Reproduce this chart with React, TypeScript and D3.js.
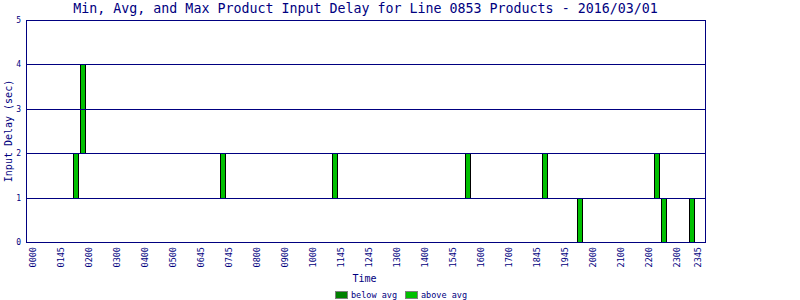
import React from "react";
import * as d3 from "d3";

const titleText = "Min, Avg, and Max Product Input Delay for Line 0853 Products - 2016/03/01";
const slotCount = 96;
const tickSlots = [0, 4, 8, 12, 16, 20, 24, 28, 32, 36, 40, 44, 48, 52, 56, 60, 64, 68, 72, 76, 80, 84, 88, 92, 95];
const tickLabels = ["0000", "0145", "0200", "0300", "0400", "0500", "0645", "0745", "0800", "0900", "1000", "1145", "1245", "1300", "1400", "1545", "1600", "1700", "1845", "1945", "2000", "2100", "2200", "2300", "2345"];
const barSlots = [6, 7, 27, 43, 62, 73, 78, 89, 90, 94];
const minDelay = [1, 2, 1, 1, 1, 1, 0, 1, 0, 0];
const maxDelay = [2, 4, 2, 2, 2, 2, 1, 2, 1, 1];
const yTicks = [0, 1, 2, 3, 4, 5];
const legendNames = ["below avg", "above avg"];
const legendColors = ["#008000", "#00c000"];

const NAVY = "#000080";
const MONO = "'DejaVu Sans Mono', monospace";

export default function App() {
  const W = 800, H = 300;
  const left = 26, right = 705, top = 20, bottom = 242;
  const x = d3.scaleBand<number>().domain(d3.range(slotCount)).range([left + 0.5, right + 0.5]).paddingOuter(0.5).paddingInner(0);
  const y = d3.scaleLinear().domain([0, 5]).range([bottom, top]);
  const cx = (k: number) => (x(k) as number) + x.bandwidth() / 2;
  const py = (v: number) => Math.round(y(v)) + 0.5;

  return (
    <svg width={W} height={H} style={{ position: "absolute", left: 0, top: 0, background: "#fff" }} shapeRendering="crispEdges">
      <rect x={0} y={0} width={W} height={H} fill="#fff" />
      <text x={(left + right) / 2} y={13} textAnchor="middle" fontFamily={MONO} fontSize={13.3} fill={NAVY}>{titleText}</text>
      {barSlots.map((s, i) => {
        const c = cx(s);
        const y0 = y(maxDelay[i]);
        const y1 = y(minDelay[i]);
        return (
          <rect key={i} x={Math.round(c - 3) + 0.5} y={Math.round(y0) + 0.5} width={5} height={Math.round(y1) - Math.round(y0)} fill="#00c000" stroke="#000" strokeWidth={1} />
        );
      })}
      {yTicks.map((t) => (
        <g key={t}>
          <line x1={left} x2={right} y1={py(t)} y2={py(t)} stroke={NAVY} strokeWidth={1} />
          <text x={21} y={py(t)} dy="0.35em" textAnchor="end" fontFamily={MONO} fontSize={8} fill={NAVY}>{t}</text>
        </g>
      ))}
      <line x1={left + 0.5} x2={left + 0.5} y1={top} y2={bottom + 1} stroke={NAVY} />
      <line x1={right + 0.5} x2={right + 0.5} y1={top} y2={bottom + 1} stroke={NAVY} />
      {tickSlots.map((s, i) => (
        <text key={i} transform={`translate(${cx(s) - 0.5},247) rotate(-90)`} textAnchor="end" dy="0.35em" fontFamily={MONO} fontSize={8.5} fill={NAVY}>{tickLabels[i]}</text>
      ))}
      <text x={364.5} y={282} textAnchor="middle" fontFamily={MONO} fontSize={10} fill={NAVY}>Time</text>
      <text transform={`translate(8,${(top + bottom) / 2}) rotate(-90)`} textAnchor="middle" dy="0.35em" fontFamily={MONO} fontSize={10} fill={NAVY}>Input Delay (sec)</text>
      {legendNames.map((n, i) => {
        const lx = 335 + i * 69.5;
        return (
          <g key={n}>
            <rect x={Math.round(lx) + 0.5} y={291.5} width={12} height={7} fill={legendColors[i]} stroke="#808080" />
            <text x={Math.round(lx) + 16} y={298} fontFamily={MONO} fontSize={8.5} fill={NAVY}>{n}</text>
          </g>
        );
      })}
    </svg>
  );
}
